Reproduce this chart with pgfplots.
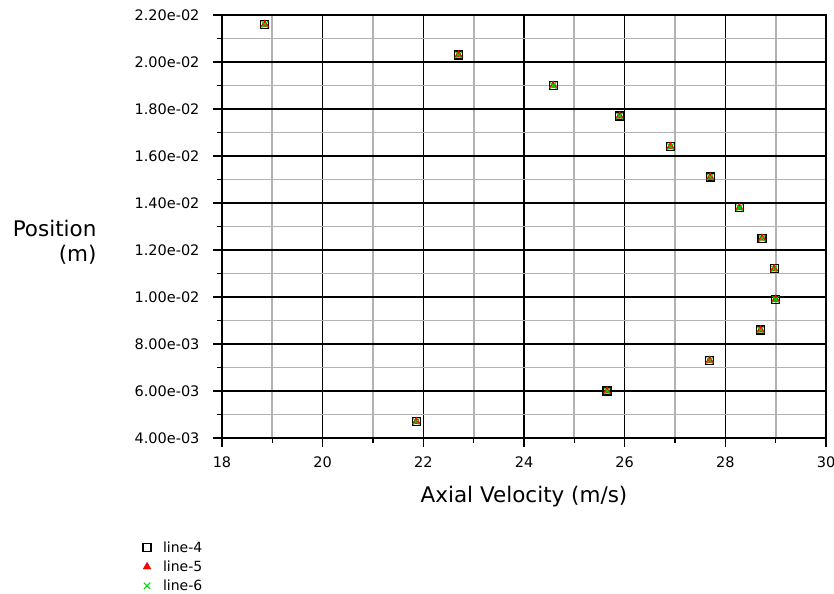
\documentclass[border=0pt]{standalone}
\usepackage{fontspec}
\setmainfont{DejaVu Sans}
\usepackage{pgfplots}
\usepackage{pgfplotstable}
\pgfplotsset{compat=1.18}
\pgfplotstableread{
x y
18.85 0.0216
22.70 0.0203
24.58 0.0190
25.90 0.0177
26.91 0.0164
27.70 0.0151
28.28 0.0138
28.73 0.0125
28.97 0.0112
29.00 0.0099
28.70 0.0086
27.69 0.0073
25.65 0.0060
21.86 0.0047
}\datatable
\begin{document}
\begin{tikzpicture}
\useasboundingbox (0,0) rectangle (834bp,594bp);
\begin{axis}[
  at={(222bp,156bp)}, anchor=south west,
  scale only axis, width=604bp, height=423bp,
  xmin=18, xmax=30, ymin=0.004, ymax=0.022,
  scaled y ticks=false, scaled x ticks=false,
  xtick={18,20,22,24,26,28,30},
  xticklabels={18,20,22,24,26,28,30},
  ytick={0.004,0.006,0.008,0.010,0.012,0.014,0.016,0.018,0.020,0.022},
  yticklabels={4.00e-03,6.00e-03,8.00e-03,1.00e-02,1.20e-02,1.40e-02,1.60e-02,1.80e-02,2.00e-02,2.20e-02},
  minor x tick num=1, minor y tick num=1,
  grid=both,
  major grid style={black, line width=1.5bp},
  minor grid style={black!30, line width=1.8bp},
  axis line style={black, line width=1.6bp},
  tick align=outside,
  xtick pos=bottom, ytick pos=left,
  major tick length=9bp, minor tick length=5bp,
  every tick/.style={black, line width=1.5bp},
  tick label style={font=\fontsize{14.5bp}{16bp}\selectfont},
  yticklabel style={xshift=-10bp},
  xticklabel style={yshift=-6bp},
  xlabel={Axial Velocity (m/s)},
  xlabel style={font=\fontsize{21.5bp}{24bp}\selectfont, at={(axis description cs:0.5,-0.139)}, anchor=center},
  ylabel={Position\\(m)},
  ylabel style={rotate=-90, font=\fontsize{21.5bp}{25bp}\selectfont, align=right, at={(axis description cs:-0.202,0.463)}, anchor=east},
  legend style={at={(axis description cs:-0.136,-0.235)}, anchor=north west, draw=none, fill=none,
    font=\fontsize{14bp}{15bp}\selectfont, row sep=3bp, cells={anchor=west}},
  legend cell align=left,
]
\addplot[only marks, mark=square, mark size=4bp, black, line width=1.3bp] table[x=x,y=y]{\datatable};
\addlegendentry{\hspace{10bp}line-4}
\addplot[only marks, mark=triangle*, mark size=4.5bp, red, fill=red] table[x=x,y=y]{\datatable};
\addlegendentry{\hspace{10bp}line-5}
\addplot[only marks, mark=x, mark size=4.5bp, green!85!black, line width=1bp] table[x=x,y=y]{\datatable};
\addlegendentry{\hspace{10bp}line-6}
\end{axis}
\end{tikzpicture}
\end{document}
